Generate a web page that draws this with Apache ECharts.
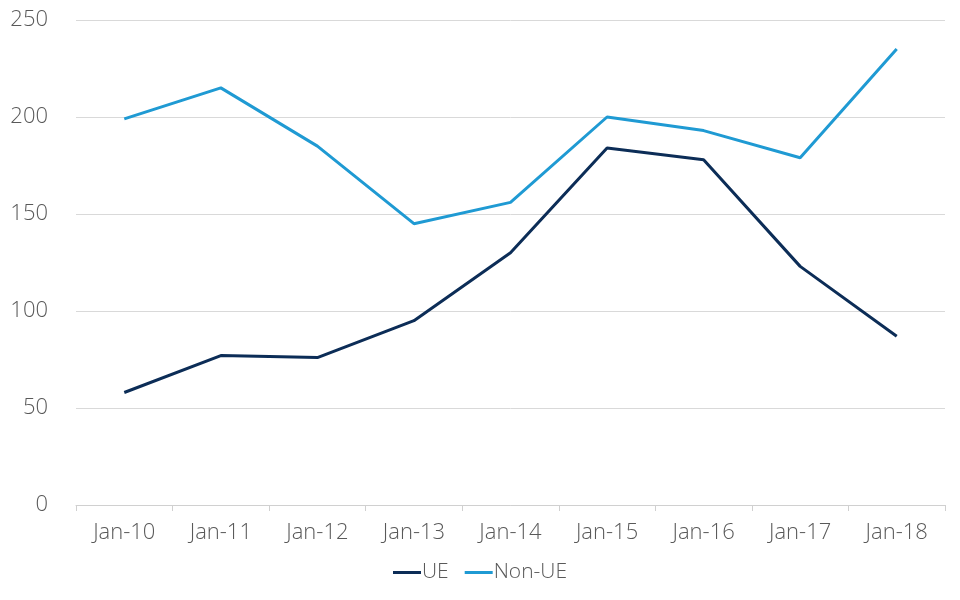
<!DOCTYPE html>
<html><head><meta charset="utf-8">
<script src="https://cdn.jsdelivr.net/npm/echarts@6/dist/echarts.min.js"></script>
<style>html,body{margin:0;padding:0;background:#fff}#c{width:960px;height:600px}</style>
</head><body><div id="c"></div>
<script>
const categories = ['Jan-10','Jan-11','Jan-12','Jan-13','Jan-14','Jan-15','Jan-16','Jan-17','Jan-18'];
const ueValues = [58, 77, 76, 95, 130, 184, 178, 123, 87];
const nonUeValues = [199, 215, 185, 145, 156, 200, 193, 179, 235];
const seriesNames = ['UE', 'Non-UE'];

const chart = echarts.init(document.getElementById('c'));
const font = '"Open Sans", sans-serif';
chart.setOption({
  animation: false,
  grid: { left: 76, right: 15, top: 20, bottom: 95, containLabel: false },
  legend: {
    data: seriesNames, bottom: 12, left: 'center', itemWidth: 28, itemHeight: 3, itemGap: 16,
    icon: 'rect',
    textStyle: { fontFamily: font, fontWeight: 300, fontSize: 21, color: '#595959', padding: [0,0,0,-4] }
  },
  xAxis: {
    type: 'category', data: categories, boundaryGap: true,
    axisLine: { lineStyle: { color: '#d0d0d0', width: 1 } },
    axisTick: { show: true, length: 6, lineStyle: { color: '#d0d0d0' } },
    axisLabel: { fontFamily: font, fontWeight: 300, fontSize: 22, color: '#595959', margin: 17 }
  },
  yAxis: {
    type: 'value', min: 0, max: 250, interval: 50,
    axisLine: { show: false }, axisTick: { show: false },
    splitLine: { lineStyle: { color: '#d9d9d9', width: 1 } },
    axisLabel: { fontFamily: font, fontWeight: 300, fontSize: 22, color: '#595959', margin: 28 }
  },
  series: [
    { name: seriesNames[0], type: 'line', data: ueValues, symbol: 'none', color: '#0C2D57', lineStyle: { width: 3 } },
    { name: seriesNames[1], type: 'line', data: nonUeValues, symbol: 'none', color: '#1F9AD3', lineStyle: { width: 3 } }
  ]
});
</script></body></html>
